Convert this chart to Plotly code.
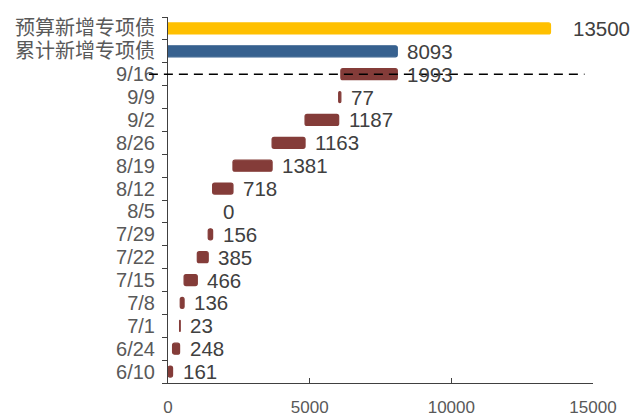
import plotly.graph_objects as go

# ---- data ----
dates = ["6/10", "6/24", "7/1", "7/8", "7/15", "7/22", "7/29", "8/5",
         "8/12", "8/19", "8/26", "9/2", "9/9", "9/16"]
weekly = [161, 248, 23, 136, 466, 385, 156, 0, 718, 1381, 1163, 1187, 77, 1993]
total_label = "累计新增专项债"
total_value = 8093
budget_label = "预算新增专项债"
budget_value = 13500
x_ticks = [0, 5000, 10000, 15000]

# cumulative bases for the waterfall
bases = []
run = 0
for v in weekly:
    bases.append(run)
    run += v
ends = [b + v for b, v in zip(bases, weekly)]

RED = "#843C39"
BLUE = "#37618F"
YELLOW = "#FFC000"
FONT = "Liberation Sans, Noto Sans CJK SC, sans-serif"
LABEL_FONT = dict(size=20.5, color="#404040", family=FONT)

fig = go.Figure()
fig.add_trace(go.Bar(
    y=dates, x=weekly, base=bases, orientation="h",
    marker=dict(color=RED, cornerradius=2,
                line=dict(color=RED, width=[1.2 if v > 0 else 0 for v in weekly])),
    width=0.48, showlegend=False,
))
fig.add_trace(go.Bar(
    y=[total_label], x=[total_value], orientation="h",
    marker=dict(color=BLUE, cornerradius=2, line=dict(color=BLUE, width=1.2)),
    width=0.48, showlegend=False,
))
fig.add_trace(go.Bar(
    y=[budget_label], x=[budget_value], orientation="h",
    marker=dict(color=YELLOW, cornerradius=2, line=dict(color=YELLOW, width=1.2)),
    width=0.48, showlegend=False,
))

# value labels
for d, e, v in zip(dates, ends, weekly):
    fig.add_annotation(x=e, y=d, text=str(v), showarrow=False,
                       xanchor="left", xshift=8, font=LABEL_FONT)
fig.add_annotation(x=total_value, y=total_label, text=str(total_value),
                   showarrow=False, xanchor="left", xshift=8, font=LABEL_FONT)
fig.add_annotation(x=budget_value, y=budget_label, text=str(budget_value),
                   showarrow=False, xanchor="left", xshift=20, font=LABEL_FONT)

# dashed reference line through the latest week
fig.add_shape(type="line", xref="paper", yref="y",
              x0=-0.045, x1=0.98, y0=len(dates) - 1, y1=len(dates) - 1,
              line=dict(color="black", width=1.5, dash="9px,6px"), layer="above")

categories = dates + [total_label, budget_label]
fig.update_layout(
    width=634, height=416,
    margin=dict(l=168, r=41, t=17, b=33),
    plot_bgcolor="white", paper_bgcolor="white",
    barmode="overlay",
    font=dict(family=FONT, color="#595959"),
    xaxis=dict(range=[0, 15000], tickvals=x_ticks, ticktext=[str(t) for t in x_ticks],
               showgrid=False, zeroline=False, showline=True, linecolor="#404040",
               linewidth=1, ticks="inside", ticklen=5, tickcolor="#404040",
               automargin=False,
               tickfont=dict(size=17, color="#595959"), ticklabelstandoff=9),
    yaxis=dict(type="category", categoryorder="array", categoryarray=categories,
               tickmode="array", tickvals=categories, ticktext=categories,
               range=[-0.5, len(categories) - 0.5],
               showgrid=False, zeroline=False, showline=True, linecolor="#404040",
               linewidth=1, ticks="outside", ticklen=5, tickcolor="#404040",
               tickson="boundaries", automargin=False,
               tickfont=dict(size=20, color="#595959"), ticklabelstandoff=8),
)

fig.write_html("out.html", config={"displayModeBar": False},
               post_script="document.body.style.margin='0';")
